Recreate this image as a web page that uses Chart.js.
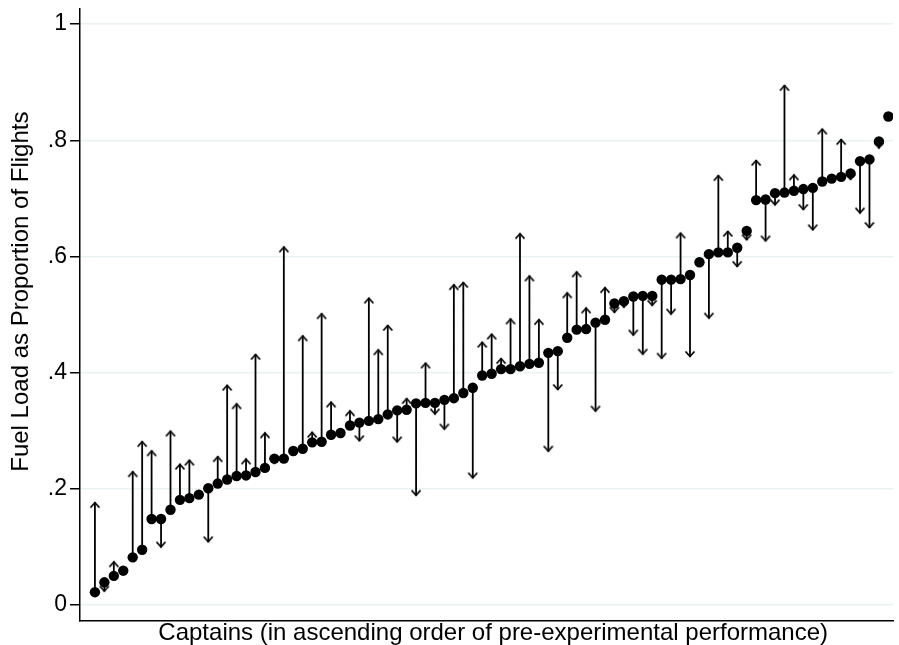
<!DOCTYPE html>
<html>
<head>
<meta charset="utf-8">
<script src="https://cdn.jsdelivr.net/npm/chart.js@4/dist/chart.umd.min.js"></script>
<style>
  html, body { margin: 0; padding: 0; background: #fff; }
  #wrap { width: 899px; height: 645px; }
</style>
</head>
<body>
<div id="wrap"><canvas id="fuelChart" width="899" height="645"></canvas></div>
<script>
// captains sorted by pre-experimental fuel load; arrow goes to the experimental value
const preLoad = [
  0.022, 0.039, 0.050, 0.059, 0.082, 0.095, 0.148, 0.148, 0.164, 0.181,
  0.184, 0.190, 0.201, 0.209, 0.216, 0.222, 0.223, 0.229, 0.236, 0.252,
  0.252, 0.265, 0.269, 0.280, 0.281, 0.293, 0.296, 0.309, 0.314, 0.317,
  0.320, 0.328, 0.335, 0.336, 0.347, 0.348, 0.348, 0.353, 0.356, 0.365,
  0.374, 0.395, 0.398, 0.406, 0.406, 0.411, 0.415, 0.417, 0.434, 0.437,
  0.460, 0.474, 0.475, 0.486, 0.491, 0.519, 0.523, 0.531, 0.532, 0.532,
  0.560, 0.560, 0.561, 0.568, 0.590, 0.604, 0.607, 0.607, 0.615, 0.644,
  0.697, 0.698, 0.709, 0.710, 0.713, 0.716, 0.718, 0.729, 0.734, 0.737,
  0.743, 0.764, 0.767, 0.798, 0.841
];
const postLoad = [
  0.177, 0.023, 0.075, 0.059, 0.230, 0.282, 0.266, 0.099, 0.300, 0.243,
  0.250, 0.190, 0.108, 0.256, 0.379, 0.347, 0.252, 0.432, 0.297, 0.243,
  0.617, 0.265, 0.464, 0.298, 0.502, 0.350, 0.296, 0.335, 0.282, 0.529,
  0.440, 0.482, 0.280, 0.356, 0.188, 0.417, 0.328, 0.302, 0.552, 0.556,
  0.218, 0.453, 0.467, 0.425, 0.493, 0.640, 0.567, 0.492, 0.264, 0.370,
  0.538, 0.574, 0.512, 0.333, 0.547, 0.503, 0.512, 0.464, 0.431, 0.515,
  0.424, 0.500, 0.641, 0.427, 0.590, 0.493, 0.740, 0.644, 0.582, 0.628,
  0.766, 0.626, 0.688, 0.895, 0.741, 0.680, 0.645, 0.820, 0.734, 0.802,
  0.732, 0.674, 0.649, 0.786, 0.841
];
const yTicks = [0, 0.2, 0.4, 0.6, 0.8, 1];
const yTickLabels = ['0', '.2', '.4', '.6', '.8', '1'];

const ranks = preLoad.map((_, i) => i + 1);

// open arrowhead, tip at the centre of the canvas
function makeHead() {
  const c = document.createElement('canvas');
  c.width = 16; c.height = 16;
  const g = c.getContext('2d');
  g.strokeStyle = '#000';
  g.lineWidth = 1.8;
  g.beginPath();
  g.moveTo(3.5, 13.5);
  g.lineTo(8, 8.5);
  g.lineTo(12.5, 13.5);
  g.stroke();
  return c;
}
const head = makeHead();

const shafts = [];
const heads = [];
const headRot = [];
ranks.forEach((r, i) => {
  shafts.push({x: r, y: preLoad[i]}, {x: r, y: postLoad[i]}, {x: r, y: null});
  if (postLoad[i] !== preLoad[i]) {
    heads.push({x: r, y: postLoad[i]});
    headRot.push(postLoad[i] > preLoad[i] ? 0 : 180);
  }
});

const FONT = "'Liberation Sans', Arial, sans-serif";

new Chart(document.getElementById('fuelChart'), {
  type: 'scatter',
  data: {
    datasets: [
      {
        label: 'pre',
        data: ranks.map((r, i) => ({x: r, y: preLoad[i]})),
        pointRadius: 5.2,
        pointBackgroundColor: '#000',
        pointBorderWidth: 0
      },
      {
        label: 'heads',
        data: heads,
        pointStyle: head,
        pointRotation: headRot,
        pointRadius: 5
      },
      {
        label: 'shafts',
        data: shafts,
        showLine: true,
        spanGaps: false,
        borderColor: '#000',
        borderWidth: 1.8,
        pointRadius: 0
      }
    ]
  },
  options: {
    responsive: false,
    animation: false,
    events: [],
    layout: { padding: { top: 9, left: 0, right: 0, bottom: 0 } },
    plugins: { legend: { display: false }, tooltip: { enabled: false } },
    scales: {
      x: {
        type: 'linear',
        min: -0.58,
        max: 85.49,
        ticks: { display: false },
        grid: { display: false },
        border: { display: true, color: '#000', width: 1.5 },
        title: {
          display: true,
          // leading spaces nudge the centred title a little to the right
          text: '  Captains (in ascending order of pre-experimental performance)',
          color: '#000',
          font: { family: FONT, size: 24, lineHeight: 1 },
          padding: { top: 0, bottom: 0 }
        },
        afterFit: s => { s.height = 24; s.paddingLeft = 0; s.paddingRight = 0; }
      },
      y: {
        min: -0.0276,
        max: 1.026,
        afterBuildTicks: s => { s.ticks = yTicks.map(v => ({value: v})); },
        ticks: {
          color: '#000',
          font: { family: FONT, size: 23 },
          padding: 3,
          callback: v => yTickLabels[yTicks.indexOf(v)]
        },
        grid: {
          color: '#eaf2f3',
          lineWidth: 1.5,
          tickColor: '#000',
          tickLength: 10,
          tickWidth: 1.5
        },
        border: { display: true, color: '#000', width: 1.5 },
        title: {
          display: true,
          // leading spaces lift the rotated title towards the top
          text: '       Fuel Load as Proportion of Flights',
          color: '#000',
          font: { family: FONT, size: 24, lineHeight: 1 },
          padding: { top: 9, bottom: 0 }
        },
        afterFit: s => { s.width = 80; s.paddingTop = 0; s.paddingBottom = 0; }
      }
    }
  }
});
</script>
</body>
</html>
